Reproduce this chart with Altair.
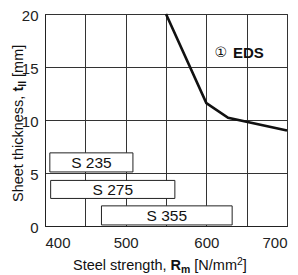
import altair as alt
import pandas as pd

# ---- data -------------------------------------------------------------
strength = [550, 600, 627, 700]          # Rm [N/mm2]
thickness = [20.0, 11.6, 10.2, 9.0]      # t_ll [mm]

grades = ["S 235", "S 275", "S 355"]
grade_rm_min = [406, 407, 470]
grade_rm_max = [509, 561, 632]
grade_t_min = [5.1, 2.6, 0.1]
grade_t_max = [6.9, 4.3, 1.9]

x_grid = [400, 450, 500, 550, 600, 650, 700]
y_grid = [0, 2.5, 5, 7.5, 10, 12.5, 15, 17.5, 20]

note_text = ["\u2460", "EDS"]
note_rm = [610, 633]
note_t = [16.3, 16.3]

FONT = "Liberation Sans"
W, H = 242, 212

# Arial-compatible advance widths (per 1000 em)
REG = {' ': 278, ',': 278, '[': 278, ']': 278, '/': 278, 'S': 667, 'h': 556,
       'e': 556, 't': 278, 'i': 222, 'c': 500, 'k': 500, 'n': 556, 's': 500, 'l': 222,
       'r': 333, 'g': 556, 'N': 722, 'm': 833, '2': 556}
BOLD = {'R': 722, 'm': 889, 't': 333, 'l': 278}


def width(text, bold, size):
    tab = BOLD if bold else REG
    return sum(tab.get(c, 556) for c in text) * size / 1000.0


curve = pd.DataFrame({"rm": strength, "t": thickness})
boxes = pd.DataFrame({"grade": grades, "x0": grade_rm_min, "x1": grade_rm_max,
                      "y0": grade_t_min, "y1": grade_t_max})
notes = pd.DataFrame({"txt": note_text, "rm": note_rm, "t": note_t})

xs = alt.Scale(domain=[400, 700], nice=False, zero=False)
ys = alt.Scale(domain=[0, 20], nice=False, zero=False)

x_axis = alt.Axis(values=x_grid, labelExpr="datum.value % 100 == 0 ? datum.label : ''",
                  title=None, ticks=False, grid=True, labelPadding=9)
y_axis = alt.Axis(values=y_grid, labelExpr="datum.value % 5 == 0 ? datum.label : ''",
                  title=None, ticks=False, grid=True, labelPadding=7, labelOffset=1)

line = alt.Chart(curve).mark_line(color="#111", strokeWidth=2.6).encode(
    x=alt.X("rm:Q", scale=xs, axis=x_axis),
    y=alt.Y("t:Q", scale=ys, axis=y_axis),
)

rects = alt.Chart(boxes).mark_rect(fill="white", stroke="#222", strokeWidth=1).encode(
    x=alt.X("x0:Q", scale=xs), x2="x1:Q",
    y=alt.Y("y0:Q", scale=ys), y2="y1:Q",
)

rect_text = alt.Chart(boxes).transform_calculate(
    xm="(datum.x0 + datum.x1) / 2", ym="(datum.y0 + datum.y1) / 2"
).mark_text(font=FONT, fontSize=15.5, color="#111", baseline="middle", dy=1).encode(
    x=alt.X("xm:Q", scale=xs), y=alt.Y("ym:Q", scale=ys), text="grade:N"
)

circ = alt.Chart(notes[notes.txt == "\u2460"]).mark_text(
    font="DejaVu Sans", fontSize=14, color="#111", align="left", baseline="middle"
).encode(x=alt.X("rm:Q", scale=xs), y=alt.Y("t:Q", scale=ys), text="txt:N")

eds = alt.Chart(notes[notes.txt == "EDS"]).mark_text(
    font=FONT, fontSize=15, fontWeight="bold", color="#111",
    align="left", baseline="middle"
).encode(x=alt.X("rm:Q", scale=xs), y=alt.Y("t:Q", scale=ys), text="txt:N")

layers = [line, rects, rect_text, circ, eds]

# ---- composite axis titles (mixed bold / sub / superscript) ----------
TS = 14.5
SP = 0.278 * TS
one = pd.DataFrame({"k": [0]})

# (text, bold, size, baseline shift, gap before)
x_pieces = [("Steel strength,", False, TS, 0, 0), ("R", True, TS, 0, SP),
            ("m", True, TS * 0.72, 3, 0), ("[N/mm", False, TS, 0, SP),
            ("2", False, TS * 0.72, -5, 0), ("]", False, TS, 0, 0)]
xpos = 28
xbase = 256
for txt, b, sz, sh, gap in x_pieces:
    xpos += gap
    layers.append(alt.Chart(one).mark_text(
        text=txt, font=FONT, fontSize=sz, fontWeight="bold" if b else "normal",
        color="#111", align="left", baseline="alphabetic"
    ).encode(x=alt.value(xpos), y=alt.value(xbase + sh)))
    xpos += width(txt, b, sz)

y_pieces = [("Sheet thickness,", False, TS, 0, 0), ("t", True, TS, 0, SP),
            ("ll", True, TS * 0.72, 3, 0), ("[mm]", False, TS, 0, SP)]
ypos = 188
ybase = -22
for txt, b, sz, sh, gap in y_pieces:
    ypos -= gap
    layers.append(alt.Chart(one).mark_text(
        text=txt, font=FONT, fontSize=sz, fontWeight="bold" if b else "normal",
        color="#111", align="left", baseline="alphabetic", angle=270
    ).encode(x=alt.value(ybase + sh), y=alt.value(ypos)))
    ypos -= width(txt, b, sz)

chart = alt.layer(*layers).properties(
    width=W, height=H,
    autosize=alt.AutoSizeParams(type="none"),
    padding={"left": 37, "top": 6, "right": 3, "bottom": 49},
).configure_axis(
    labelFont=FONT, labelFontSize=15, labelColor="#222",
    gridColor="#333", gridOpacity=1, gridWidth=1,
    domainColor="#222", domainWidth=1,
).configure_view(stroke="#333", strokeWidth=1)

chart.save("out.html", embed_options={"renderer": "svg", "actions": False})
